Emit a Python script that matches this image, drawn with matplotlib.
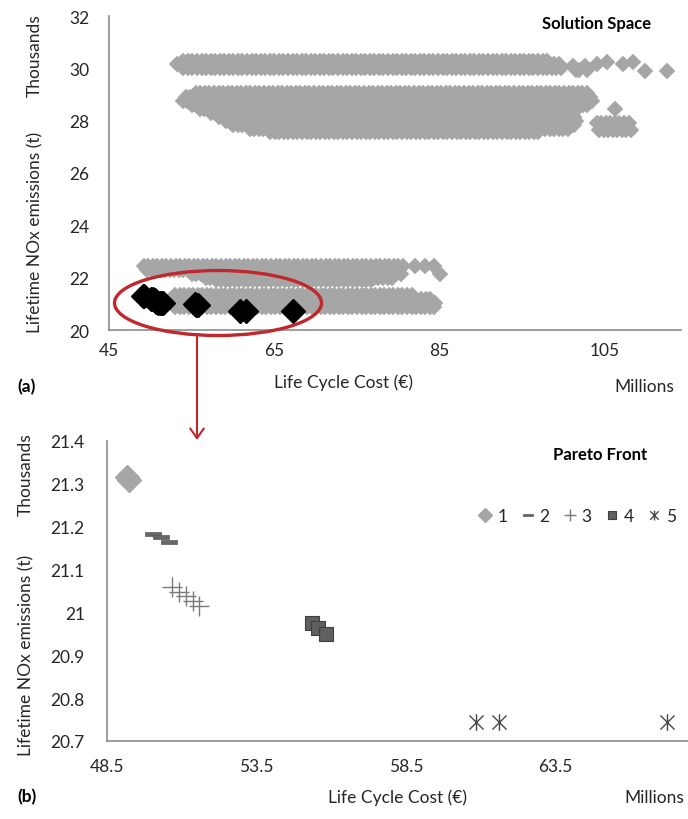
import numpy as np
import matplotlib
matplotlib.use("Agg")
import matplotlib.pyplot as plt
from matplotlib.path import Path
from matplotlib.patches import Ellipse, FancyArrowPatch

plt.rcParams['font.family'] = ['Lato', 'DejaVu Sans']

# ---------------- data ----------------
# Solution space: rows of the dense cloud (y in thousands t, x range in millions EUR)
cloud_row_y  = [30.28, 30.15, 30.02,
                29.05, 28.90, 28.75, 28.60, 28.45, 28.30, 28.15, 28.00, 27.85, 27.70, 27.55,
                27.90, 27.65,
                22.45, 22.30, 22.15, 22.00, 21.90,
                21.32, 21.18, 21.02, 20.87]
cloud_row_x0 = [54.0, 53.2, 54.0,
                55.5, 54.3, 53.9, 55.0, 56.0, 57.3, 58.3, 59.2, 60.0, 62.0, 64.5,
                104.0, 104.3,
                49.2, 49.6, 55.0, 56.7, 58.0,
                53.0, 52.5, 52.5, 53.0]
cloud_row_x1 = [98.0, 99.5, 99.8,
                103.0, 103.7, 103.7, 103.3, 102.0, 101.0, 101.5, 101.6, 101.6, 101.0, 97.0,
                108.0, 108.2,
                81.0, 80.0, 80.5, 79.5, 77.0,
                82.0, 84.0, 84.6, 84.6]
# isolated solutions
sparse_x = [101.1, 101.8, 102.6, 101.5, 102.8, 104.0, 105.3, 107.2, 108.4, 109.8, 112.5,
            106.2, 82.0, 83.2, 84.3, 85.1]
sparse_y = [30.10, 29.95, 30.10, 29.92, 29.95, 30.16, 30.24, 30.16, 30.24, 29.90, 29.90,
            28.45, 22.45, 22.45, 22.45, 22.14]

# Pareto front groups (x: LCC in millions EUR, y: NOx in thousands t)
p1_x = [49.17, 49.24]
p1_y = [21.316, 21.309]
p2_x = [50.05, 50.30, 50.58]
p2_y = [21.184, 21.177, 21.164]
p3_x = [50.68, 50.92, 51.15, 51.36, 51.58]
p3_y = [21.059, 21.048, 21.038, 21.027, 21.015]
p4_x = [55.35, 55.56, 55.81]
p4_y = [20.975, 20.963, 20.950]
p5_x = [60.85, 61.59, 67.21]
p5_y = [20.744, 20.744, 20.744]
legend_labels = ['1', '2', '3', '4', '5']

top_xticks = [45, 65, 85, 105]
top_yticks = [20, 22, 24, 26, 28, 30, 32]
bot_xticks = [48.5, 53.5, 58.5, 63.5]
bot_yticks = [20.7, 20.8, 20.9, 21.0, 21.1, 21.2, 21.3, 21.4]

# ---------------- figure ----------------
W, H = 688, 820
fig = plt.figure(figsize=(W / 100, H / 100), dpi=100)

def fx(px):
    return px / W

def fy(py):
    return 1 - py / H

axis_col = '#8c8c8c'
txt_col = '#262626'
fs = 12.5

def style_axes(ax):
    for s in ['top', 'right']:
        ax.spines[s].set_visible(False)
    for s in ['left', 'bottom']:
        ax.spines[s].set_color(axis_col)
        ax.spines[s].set_linewidth(1.2)
    ax.tick_params(length=0, labelsize=fs, colors=txt_col)
    ax.set_facecolor('none')

# ---- top panel ----
ax1 = fig.add_axes([fx(109), fy(331), fx(681 - 109), (331 - 17) / H])
cx, cy = [], []
for y, x0, x1 in zip(cloud_row_y, cloud_row_x0, cloud_row_x1):
    xs = np.arange(x0, x1 + 1e-6, 0.55)
    cx.extend(xs)
    cy.extend([y] * len(xs))
ax1.plot(cx, cy, ls='none', marker='D', ms=8.6, mfc='#a6a6a6', mec='#a6a6a6', mew=0.3)
ax1.plot(sparse_x, sparse_y, ls='none', marker='D', ms=8.6, mfc='#a6a6a6', mec='#a6a6a6', mew=0.3)
all_px = p1_x + p2_x + p3_x + p4_x + p5_x
all_py = p1_y + p2_y + p3_y + p4_y + p5_y
ax1.plot(all_px, all_py, ls='none', marker='D', ms=12, mfc='black', mec='black', zorder=5)
ax1.set_xlim(45, 114.2)
ax1.set_ylim(20, 32)
ax1.set_xticks(top_xticks)
ax1.set_yticks(top_yticks)
ax1.set_yticklabels([str(v) for v in top_yticks])
style_axes(ax1)
ax1.tick_params(axis='x', pad=9)
ax1.tick_params(axis='y', pad=14)

# ---- bottom panel ----
ax2 = fig.add_axes([fx(107), fy(742), fx(688 - 107), (742 - 442) / H])
dash = Path([(-1, -0.25), (1, -0.25), (1, 0.25), (-1, 0.25), (-1, -0.25)],
            [Path.MOVETO, Path.LINETO, Path.LINETO, Path.LINETO, Path.CLOSEPOLY])
star = Path([(0, -1), (0, 1), (-0.85, -0.85), (0.85, 0.85), (-0.85, 0.85), (0.85, -0.85)],
            [Path.MOVETO, Path.LINETO, Path.MOVETO, Path.LINETO, Path.MOVETO, Path.LINETO])
h1, = ax2.plot(p1_x, p1_y, ls='none', marker='D', ms=12, mfc='#a6a6a6', mec='#a6a6a6')
h2, = ax2.plot(p2_x, p2_y, ls='none', marker=dash, ms=11, mfc='#666666', mec='#5a5a5a', mew=0.5)
h3, = ax2.plot(p3_x, p3_y, ls='none', marker='+', ms=15, mec='#7a7a7a', mew=1.0)
h4, = ax2.plot(p4_x, p4_y, ls='none', marker='s', ms=9.5, mfc='#5f5f5f', mec='#3f3f3f', mew=0.8)
h5, = ax2.plot(p5_x, p5_y, ls='none', marker=star, ms=12, mec='#4a4a4a', mew=1.0)
ax2.set_xlim(48.5, 67.92)
ax2.set_ylim(20.7, 21.4)
ax2.set_xticks(bot_xticks)
ax2.set_xticklabels([f'{v:g}' for v in bot_xticks])
ax2.set_yticks(bot_yticks)
ax2.set_yticklabels([f'{v:g}' for v in bot_yticks])
style_axes(ax2)
ax2.tick_params(axis='x', pad=12)
ax2.tick_params(axis='y', pad=16)

leg = fig.legend([h1, h2, h3, h4, h5], legend_labels, ncol=5, frameon=False,
                 loc='center', bbox_to_anchor=(fx(577), fy(517)),
                 handlelength=0.9, handletextpad=0.25, columnspacing=0.7,
                 fontsize=fs, markerscale=0.6)
for t in leg.get_texts():
    t.set_color(txt_col)

# ---- texts ----
fig.text(fx(597), fy(24), 'Solution Space', ha='center', va='center', fontsize=12, fontweight='bold', color='black')
fig.text(fx(600), fy(455), 'Pareto Front', ha='center', va='center', fontsize=12, fontweight='bold', color='black')
fig.text(fx(344), fy(383), 'Life Cycle Cost (€)', ha='center', va='center', fontsize=fs, color=txt_col)
fig.text(fx(644), fy(387), 'Millions', ha='center', va='center', fontsize=fs, color=txt_col)
fig.text(fx(398), fy(798), 'Life Cycle Cost (€)', ha='center', va='center', fontsize=fs, color=txt_col)
fig.text(fx(654), fy(798), 'Millions', ha='center', va='center', fontsize=fs, color=txt_col)
fig.text(fx(35), fy(232), 'Lifetime NOx emissions (t)', ha='center', va='center', rotation=90, fontsize=fs, color=txt_col)
fig.text(fx(35), fy(56), 'Thousands', ha='center', va='center', rotation=90, fontsize=fs, color=txt_col)
fig.text(fx(26), fy(655), 'Lifetime NOx emissions (t)', ha='center', va='center', rotation=90, fontsize=fs, color=txt_col)
fig.text(fx(26), fy(475), 'Thousands', ha='center', va='center', rotation=90, fontsize=fs, color=txt_col)
fig.text(fx(27), fy(387), '(a)', ha='center', va='center', fontsize=12.5, fontweight='bold', color='black')
fig.text(fx(27), fy(797), '(b)', ha='center', va='center', fontsize=12.5, fontweight='bold', color='black')

# ---- red ellipse and arrow ----
red = '#c0282d'
ell = Ellipse((fx(218), fy(304)), fx(207), 65 / H, transform=fig.transFigure,
              fill=False, edgecolor=red, lw=2.4, zorder=10)
fig.add_artist(ell)
arr = FancyArrowPatch((fx(197), fy(337)), (fx(197), fy(441)), transform=fig.transFigure,
                      arrowstyle='->,head_length=0.5,head_width=0.35', mutation_scale=14,
                      color=red, lw=1.5, shrinkA=0, shrinkB=0)
fig.add_artist(arr)

fig.savefig('out.png', dpi=100, facecolor='white')
